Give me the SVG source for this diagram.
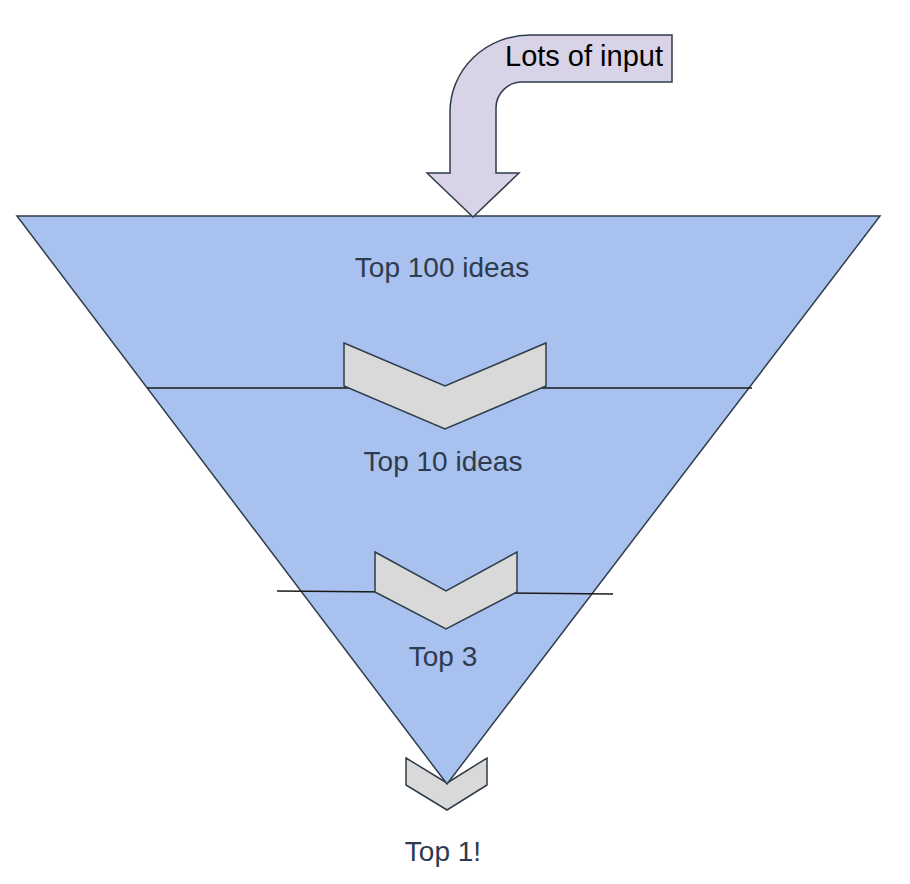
<svg xmlns="http://www.w3.org/2000/svg" width="910" height="884" viewBox="0 0 910 884">
<style>
.shape{stroke:#2f3d4a;stroke-width:1.5;stroke-linejoin:miter}
.chev{fill:#d9d9d9}
.lbl{font-family:"Liberation Sans",Arial,sans-serif;font-size:28px;fill:#2e3b4e;text-anchor:middle}
.div{stroke:#1a1a1a;stroke-width:1.5;fill:none}
</style>
<rect width="910" height="884" fill="#ffffff"/>
<g id="chevron-top1">
<polygon class="shape chev" points="406,758 447,783 487,758 487,785 447,810 406,785"/>
</g>
<g id="funnel">
<polygon class="shape" fill="#a9c1ef" points="17,216 880,216 447,784"/>
</g>
<g id="connectors">
<line class="div" x1="147" y1="388" x2="752" y2="388"/>
<line class="div" x1="277" y1="591" x2="613" y2="594"/>
</g>
<g id="chevron-1">
<polygon class="shape chev" points="344,343 445,386 546,343 546,386 445,429 344,386"/>
</g>
<g id="chevron-2">
<polygon class="shape chev" points="375,552 446,591 517,552 517,592 446,629 375,592"/>
</g>
<g id="input-arrow">
<path class="shape" fill="#d9d3e8" d="M672,35 L530,35 A80,77 0 0 0 450,112 L450,173 L427,173 L473,217 L519,173 L496,173 L496,108 A26,26 0 0 1 522,82 L672,82 Z"/>
<text x="584" y="66" style="font-family:'Liberation Sans',Arial,sans-serif;font-size:29px;fill:#000;text-anchor:middle">Lots of input</text>
</g>
<g id="label-100"><text class="lbl" x="442" y="277">Top 100 ideas</text></g>
<g id="label-10"><text class="lbl" x="443" y="471">Top 10 ideas</text></g>
<g id="label-3"><text class="lbl" x="443" y="666">Top 3</text></g>
<g id="label-1"><text class="lbl" x="443" y="861">Top 1!</text></g>
</svg>
